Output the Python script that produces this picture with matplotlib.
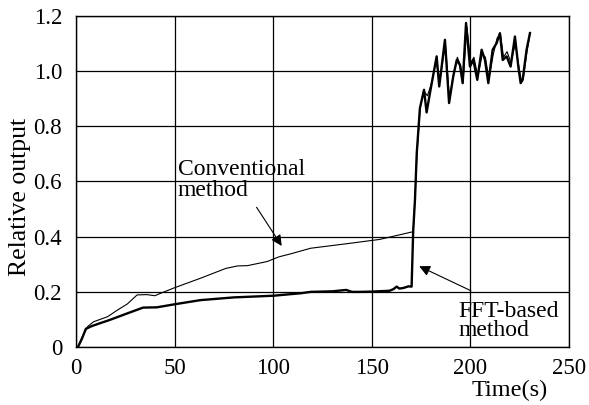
import matplotlib.pyplot as plt

# values
conv_t = [1, 3, 6, 9, 16, 21, 26, 31, 36, 40, 44, 50, 63, 76, 82, 87, 97, 103,
          109, 119, 139, 154, 171, 172, 173, 174.6, 176.3, 178.2, 180.5, 182.6,
          184.4, 187.3, 189.4, 191.5, 193.4, 195.0, 196.4, 198.2, 200.2, 201.8,
          203.8, 206.0, 207.6, 209.4, 211.6, 213.6, 215.3, 216.8, 218.6, 220.6,
          222.8, 224.5, 225.7, 226.8, 228.7, 230.4]
conv_v = [0.0, 0.035, 0.075, 0.092, 0.11, 0.134, 0.156, 0.189, 0.19, 0.186,
          0.198, 0.215, 0.249, 0.285, 0.294, 0.295, 0.31, 0.327, 0.338, 0.358,
          0.376, 0.39, 0.418, 0.55, 0.71, 0.87, 0.93, 0.91, 0.96, 1.04,
          0.96, 1.10, 0.90, 0.99, 1.05, 1.02, 0.97, 1.16, 1.03, 1.05,
          0.98, 1.06, 1.05, 0.97, 1.06, 1.12, 1.13, 1.05, 1.07, 1.03,
          1.10, 1.02, 0.97, 0.97, 1.07, 1.14]

fft_t = [1, 3, 5, 8, 12, 17, 26, 34, 41, 50, 63, 80, 100, 114, 119, 130, 137,
         140, 144, 150, 159, 161, 162.6, 164, 166, 168.6, 170.2, 171, 171.9,
         172.8, 174.4, 176.5, 177.8, 180.0, 182.9, 184.2, 187.1, 189.2, 191.3,
         193.1, 194.7, 196.1, 197.8, 199.8, 201.5, 203.5, 205.7, 207.4, 209.1,
         211.3, 213.3, 215.0, 216.4, 218.4, 220.4, 222.6, 224.3, 225.5, 226.5,
         228.5, 230.2]
fft_v = [0.0, 0.03, 0.066, 0.076, 0.086, 0.098, 0.122, 0.143, 0.144, 0.155,
         0.17, 0.18, 0.186, 0.195, 0.2, 0.202, 0.207, 0.2, 0.2, 0.201, 0.204,
         0.21, 0.219, 0.212, 0.214, 0.22, 0.219, 0.42, 0.533, 0.702, 0.865,
         0.932, 0.85, 0.94, 1.053, 0.944, 1.113, 0.884, 0.98, 1.04, 1.022,
         0.956, 1.174, 1.016, 1.04, 0.968, 1.077, 1.04, 0.956, 1.077, 1.101,
         1.137, 1.04, 1.053, 1.016, 1.125, 1.016, 0.956, 0.968, 1.077, 1.137]

x_ticks = [0, 50, 100, 150, 200, 250]
y_ticks = [0, 0.2, 0.4, 0.6, 0.8, 1.0, 1.2]
y_labels = ['0', '0.2', '0.4', '0.6', '0.8', '1.0', '1.2']

plt.rcParams['font.family'] = ['Liberation Serif', 'DejaVu Serif']

fig = plt.figure(figsize=(5.89, 4.05), dpi=100)
ax = fig.add_axes([0.129, 0.143, 0.837, 0.818])

ax.plot(conv_t, conv_v, color='black', lw=0.8)
ax.plot(fft_t, fft_v, color='black', lw=1.7)

ax.set_xlim(0, 250)
ax.set_ylim(0, 1.2)
ax.set_xticks(x_ticks)
ax.set_yticks(y_ticks)
ax.set_yticklabels(y_labels)
ax.tick_params(length=0, labelsize=16.5)
ax.tick_params(axis='x', pad=8)
ax.tick_params(axis='y', pad=10)
ax.grid(True, color='black', lw=0.9)
for s in ax.spines.values():
    s.set_linewidth(1.0)

ax.set_ylabel('Relative output', fontsize=18.5)
ax.yaxis.set_label_coords(-0.092, 0.453)
ax.text(0.88, -0.13, 'Time(s)', transform=ax.transAxes, ha='center',
        va='center', fontsize=17.5)

ax.annotate('', xy=(105.1, 0.358), xytext=(90.8, 0.515),
            arrowprops=dict(arrowstyle='-|>', color='black', lw=0.8,
                            mutation_scale=16))
ax.text(51.7, 0.607, 'Conventional\nmethod', fontsize=17, ha='left',
        va='center', linespacing=1.0)

ax.annotate('', xy=(172.8, 0.297), xytext=(201.5, 0.2),
            arrowprops=dict(arrowstyle='-|>', color='black', lw=0.8,
                            mutation_scale=16))
ax.text(193.9, 0.094, 'FFT-based\nmethod', fontsize=17, ha='left',
        va='center', linespacing=0.88)

plt.savefig('out.png')
